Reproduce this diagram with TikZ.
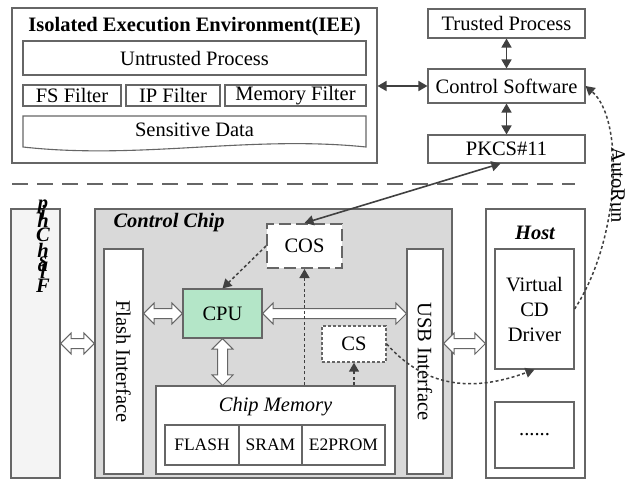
\documentclass[tikz,border=0pt]{standalone}
\usepackage{fontspec}
\setmainfont{Liberation Serif}
\usetikzlibrary{arrows.meta,calc,shapes.arrows}
\definecolor{bordc}{HTML}{666666}
\definecolor{arrc}{HTML}{404040}
\definecolor{chipc}{HTML}{D9D9D9}
\definecolor{cpuc}{HTML}{B4E6C8}
\definecolor{flashc}{HTML}{F4F4F4}
\begin{document}
\begin{tikzpicture}[x=1pt,y=-1pt,
  every node/.style={font=\fontsize{20.5}{25}\selectfont},
  box/.style={draw=bordc, line width=1.1pt, fill=white, inner sep=0pt},
  small/.style={font=\fontsize{17.5}{21}\selectfont},
  tipboth/.style={{Triangle[length=9pt,width=10pt]}-{Triangle[length=9pt,width=10pt]}},
  solidarr/.style={draw=arrc, line width=1.6pt, tipboth},
  dotarr/.style={draw=arrc, line width=1.5pt, dash pattern=on 3pt off 2.5pt, -{Triangle[length=9pt,width=10pt]}},
  blk/.style={double arrow, draw=bordc, line width=1pt, fill=white, inner sep=4.5pt,
    double arrow head extend=5.5pt, double arrow tip angle=90, anchor=center},
  letter/.style={font=\fontsize{20.5}{25}\selectfont\bfseries\itshape, inner sep=0pt}
]
\useasboundingbox (0,0) rectangle (628,481);

% ---------- top part ----------
\node[box, minimum width=365pt, minimum height=155pt] (iee) at (194.5,85.5) {};
\node[font=\fontsize{20.5}{25}\selectfont\bfseries] (ieet) at (194.5,27) {Isolated Execution Environment(IEE)};
\node[box, minimum width=343pt, minimum height=34pt] (up) at (194.5,58) {Untrusted Process};
\node[box, minimum width=98pt, minimum height=21pt] (fsf) at (72,95.5) {FS Filter};
\node[box, minimum width=94pt, minimum height=21pt] (ipf) at (173,95.5) {IP Filter};
\node[box, minimum width=141pt, minimum height=21pt] (mf) at (295.5,95.5) {Memory Filter};
\draw[draw=bordc, line width=1.1pt, fill=white] (23,116) -- (366,116) -- (366,147)
  .. controls (250,135) and (140,160) .. (23,147) -- cycle;
\node (sd) at (194.5,130) {Sensitive Data};

\node[box, minimum width=157pt, minimum height=29pt] (tp) at (506.5,23.5) {Trusted Process};
\node[box, minimum width=157pt, minimum height=34pt] (csw) at (506.5,86) {Control Software};
\node[box, minimum width=157pt, minimum height=28pt] (pk) at (506.5,149) {PKCS\#11};

\draw[solidarr] (tp.south) -- (csw.north);
\draw[solidarr] (csw.south) -- (pk.south |- pk.north);
\draw[solidarr] (iee.east |- csw.west) -- (csw.west);

% separator
\draw[draw=bordc, line width=2pt, dash pattern=on 16pt off 9pt] (12,184) -- (575,184);

% ---------- bottom part ----------
\node[draw=bordc, line width=1.1pt, fill=flashc, minimum width=49pt, minimum height=269pt, inner sep=0pt] (fchip) at (35.5,343.5) {};
\node[letter] (l1) at (43,207) {p};
\node[letter] (l2) at (43,212) {i};
\node[letter] (l3) at (43,220) {h};
\node[letter] (l4) at (43,235) {C};
\node[letter] (l5) at (43,250) {h};
\node[letter] (l6) at (43,262) {s};
\node[letter] (l7) at (43,267) {a};
\node[letter] (l8) at (43,271) {l};
\node[letter] (l9) at (43,286) {F};

\node[draw=bordc, line width=1.1pt, fill=chipc, minimum width=357pt, minimum height=269pt, inner sep=0pt] (cchip) at (273.5,343.5) {};
\node[anchor=west, font=\fontsize{20.5}{25}\selectfont\bfseries\itshape] (cclab) at (110,223) {Control Chip};

\node[box, minimum width=39pt, minimum height=225pt] (fi) at (123.5,361.5) {};
\node[rotate=-90] (fit) at (fi.center) {Flash Interface};
\node[box, minimum width=36pt, minimum height=225pt] (usb) at (425,361.5) {};
\node[rotate=-90] (usbt) at (usb.center) {USB Interface};

\node[box, fill=cpuc, minimum width=79pt, minimum height=49pt] (cpu) at (222.5,313.5) {CPU};
\node[box, dash pattern=on 12pt off 5pt, line width=2pt, minimum width=75pt, minimum height=44pt] (cos) at (304.5,246) {COS};
\node[box, dash pattern=on 3pt off 2pt, line width=1.4pt, minimum width=64pt, minimum height=36pt] (cs) at (354,344) {CS};

\node[box, minimum width=239pt, minimum height=88pt] (mem) at (275.5,430) {};
\node[font=\fontsize{20.5}{25}\selectfont\itshape] (memt) at (275.5,407) {Chip Memory};
\node[box, small, minimum width=74pt, minimum height=40pt] (flash) at (202,445) {FLASH};
\node[box, small, minimum width=63pt, minimum height=40pt] (sram) at (270.5,445) {SRAM};
\node[box, small, minimum width=83pt, minimum height=40pt] (e2) at (343.5,445) {E2PROM};

\node[box, minimum width=99pt, minimum height=269pt] (host) at (535.5,343.5) {};
\node[font=\fontsize{20.5}{25}\selectfont\bfseries\itshape] (hostt) at (535,233) {Host};
\node[box, minimum width=79pt, minimum height=120pt, align=center] (vcd) at (534.5,309) {Virtual\\CD\\Driver};
\node[box, minimum width=79pt, minimum height=66pt] (dots) at (534.5,435) {......};

% block arrows
\path let \p1=(fchip.east), \p2=(cchip.west) in
  node[blk, minimum height={veclen(\x2-\x1,\y2-\y1)}] (b1) at ($(\p1)!0.5!(\p2)$) {};
\path let \p1=(fi.east |- cpu.west), \p2=(cpu.west) in
  node[blk, minimum height={veclen(\x2-\x1,\y2-\y1)}] (b2) at ($(\p1)!0.5!(\p2)$) {};
\path let \p1=(cpu.east), \p2=(usb.west |- cpu.east) in
  node[blk, minimum height={veclen(\x2-\x1,\y2-\y1)}] (b3) at ($(\p1)!0.5!(\p2)$) {};
\path let \p1=(cpu.south), \p2=(cpu.south |- mem.north) in
  node[blk, shape border rotate=90, minimum height={veclen(\x2-\x1,\y2-\y1)}] (b4) at ($(\p1)!0.5!(\p2)$) {};
\path let \p1=(usb.east |- host.west), \p2=(host.west) in
  node[blk, minimum height={veclen(\x2-\x1,\y2-\y1)}] (b5) at ($(\p1)!0.5!(\p2)$) {};

% dotted arrows
\draw[dotarr] (cos.west) -- (cpu.north);
\draw[dotarr] (mem.north -| cos.south) -- (cos.south);
\draw[dotarr] (mem.north -| cs.south) -- (cs.south);
\draw[dotarr] (cs.east) .. controls +(40,45) and +(-60,22) .. (vcd.south);
\draw[dotarr] (vcd.east) .. controls (620,240) and (625,120) .. (csw.east);
\node[rotate=-90, inner sep=0pt] (autorun) at (618,185) {AutoRun};

% PKCS <-> COS
\draw[solidarr] (cos.north) -- ($(pk.south)+(-6,0)$);
\end{tikzpicture}
\end{document}
